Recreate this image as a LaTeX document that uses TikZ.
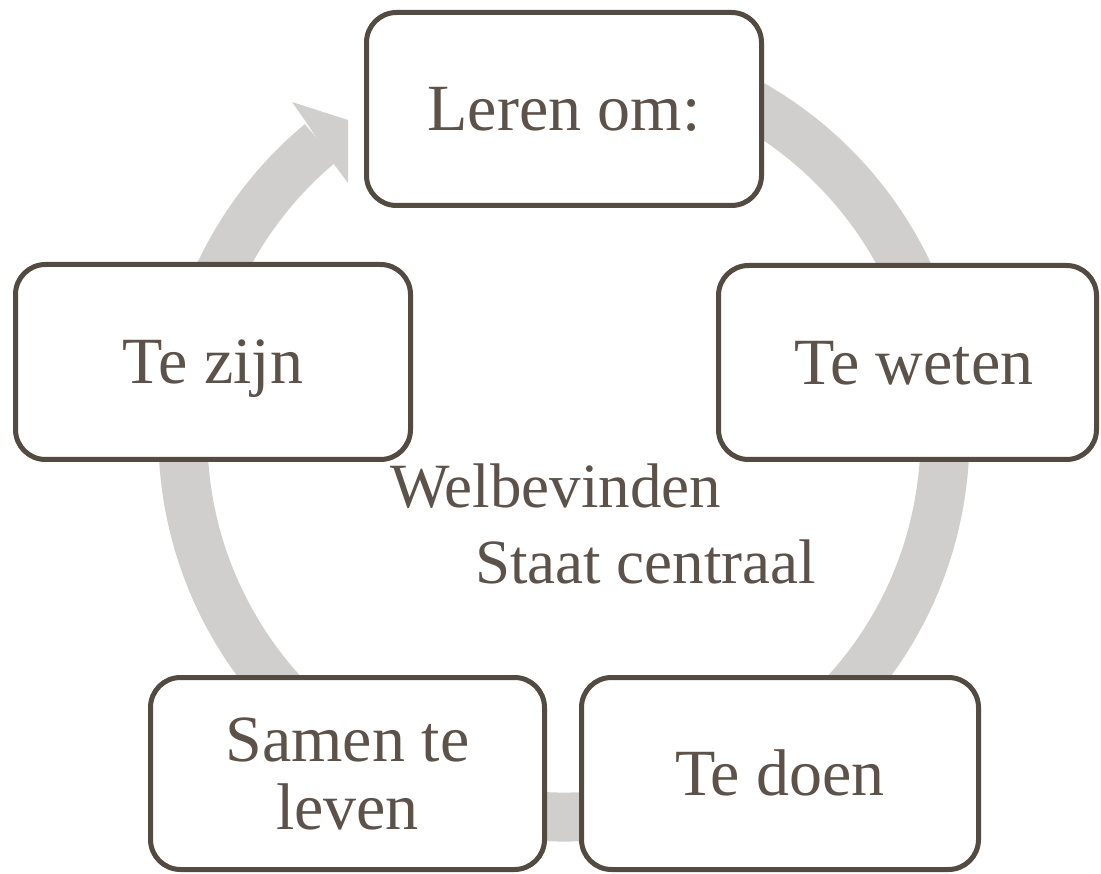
\documentclass[tikz,border=0pt]{standalone}
\usepackage{fontspec}
\setmainfont{Liberation Serif}
\definecolor{brd}{RGB}{83,74,66}
\definecolor{txt}{RGB}{92,82,73}
\definecolor{ring}{RGB}{208,207,206}
\begin{document}
\begin{tikzpicture}[x=1pt,y=-1pt,
  box/.style={draw=brd, line width=5pt, fill=white, rounded corners=30pt,
    rectangle, inner sep=0pt, minimum width=395pt, minimum height=193pt,
    text=txt, font=\fontsize{66}{68}\selectfont, align=center,
    text height=44pt, text depth=0pt},
  ringstyle/.style={draw=ring, line width=49pt, line cap=butt}]
\useasboundingbox (0,0) rectangle (1101,874);
% ring
\coordinate (c) at (564,436);
\draw[ringstyle] (c) ++(-80:381) arc[start angle=-80, end angle=230.3, radius=381];
\fill[ring] (306,122) -- (292,102) -- (348,120) -- (348,183) -- (333,163) -- cycle;
% boxes
\node[box] (leren) at (564,109) {Leren om:};
\node[box, minimum width=378pt, minimum height=194pt] (weten) at (907.5,362.5) {\hspace*{13pt}Te weten};
\node[box, minimum height=195pt] (zijn) at (213,362) {Te zijn};
\node[box, minimum width=394pt, minimum height=192pt, text height=112pt] (samen) at (347.5,773.5) {Samen te\\leven};
\node[box, minimum width=397pt, minimum height=192pt] (doen) at (780,773.5) {Te doen};
% center text
\node[text=txt, font=\fontsize{63}{76}\selectfont, align=left, inner sep=0pt,
  text height=118pt, text depth=0pt, anchor=west] (centre) at (390,524)
  {Welbevinden\\\hspace*{85pt}Staat centraal};
\end{tikzpicture}
\end{document}
